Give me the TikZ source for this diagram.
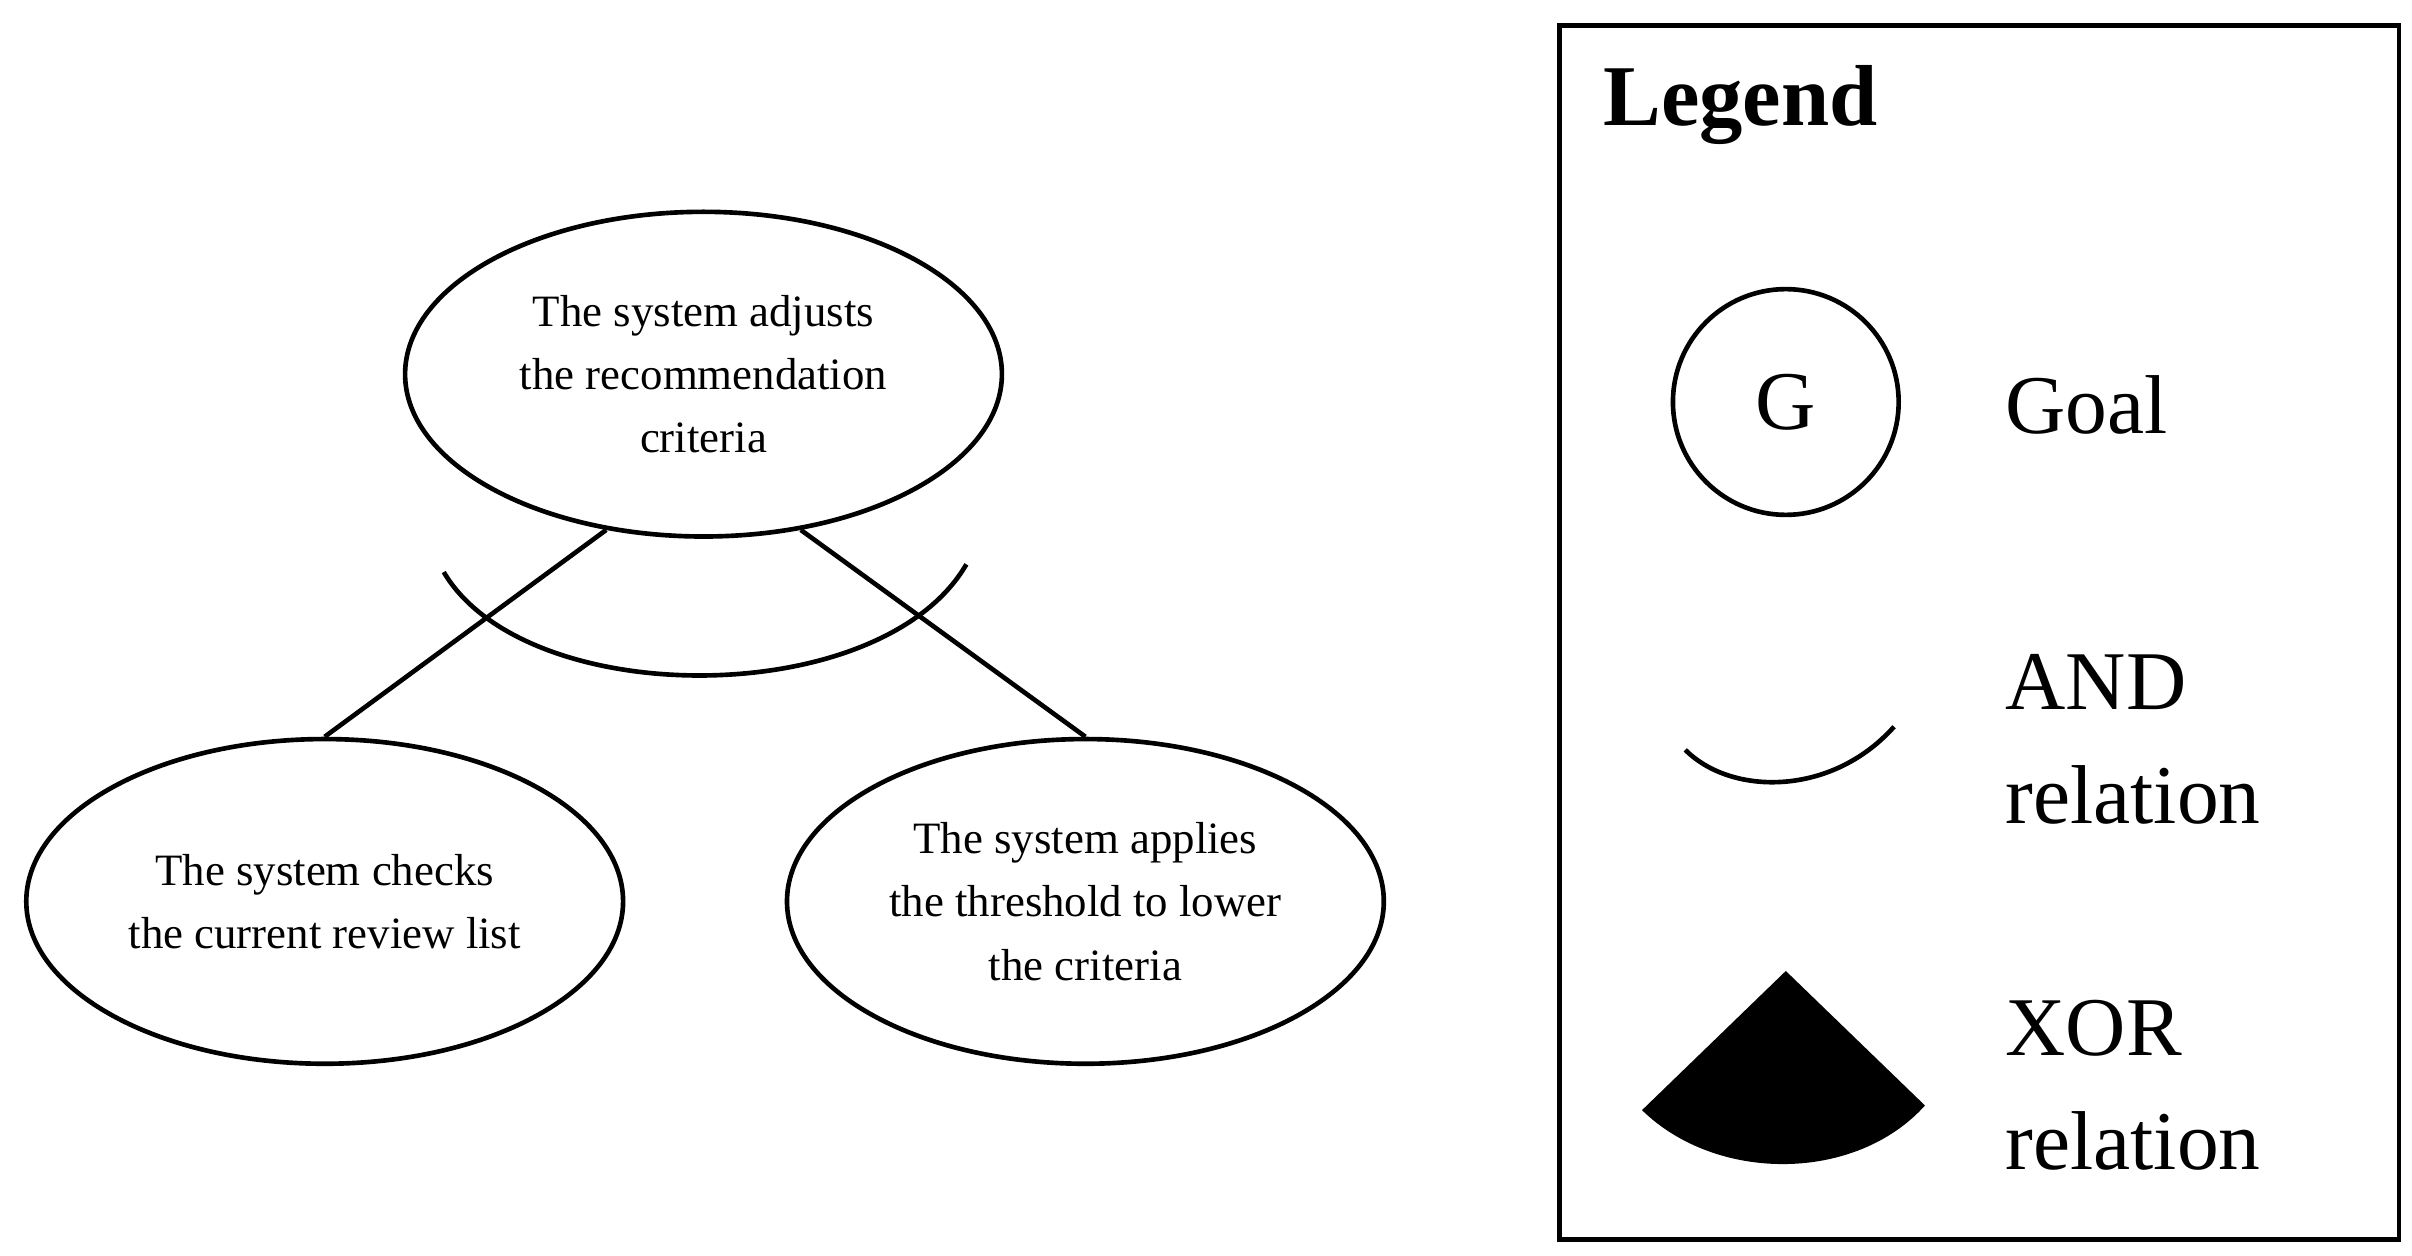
\documentclass[tikz,border=0pt]{standalone}
\usepackage{fontspec}
\setmainfont{Liberation Serif}
\usetikzlibrary{shapes.geometric}
\begin{document}
\begin{tikzpicture}[x=0.5pt,y=-0.5pt,
  goal/.style={draw,line width=1.5pt,ellipse,minimum width=193pt,minimum height=105pt,inner sep=0pt,align=center,font=\fontsize{14.5}{20.5}\selectfont},
  ln/.style={line width=1.5pt},
  lg/.style={font=\fontsize{27}{37}\selectfont,anchor=west,align=left}]
\useasboundingbox (0,0) rectangle (1560,812);
\node[goal] (top) at (455,242) {The system adjusts\\the recommendation\\criteria};
\node[goal] (l) at (210,583) {The system checks\\the current review list};
\node[goal] (r) at (702,583) {The system applies\\the threshold to lower\\the criteria};
\draw[ln] (top.-122) -- (l.north);
\draw[ln] (top.-58) -- (r.north);
\draw[ln] (287,370) .. controls (340,460) and (570,460) .. (625,365);
\node[draw,line width=1.5pt,minimum width=271.5pt,minimum height=392.5pt,anchor=north west,inner sep=0pt] (box) at (1007,15) {};
\node[anchor=west,font=\bfseries\fontsize{28}{34}\selectfont] (title) at (1030,68) {Legend};
\node[draw,line width=1.5pt,circle,minimum size=73pt,inner sep=0pt,font=\fontsize{27}{32}\selectfont] (g) at (1155,260) {G};
\node[lg] (goal) at (1290,262) {Goal};
\draw[ln] (1090,485) .. controls (1120,515) and (1185,515) .. (1225,470);
\node[lg] (and) at (1290,478) {AND\\relation};
\fill (1155,628) -- (1062,718) .. controls (1110,765) and (1200,765) .. (1245,715) -- cycle;
\node[lg] (xor) at (1290,702) {XOR\\relation};
\end{tikzpicture}
\end{document}
